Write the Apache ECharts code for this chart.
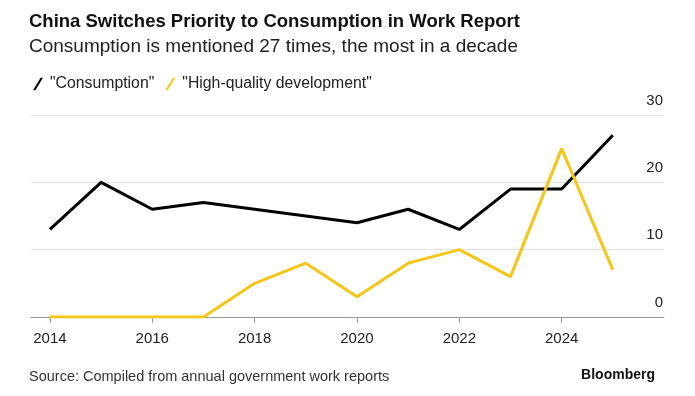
<!DOCTYPE html>
<html>
<head>
<meta charset="utf-8">
<script src="https://cdn.jsdelivr.net/npm/echarts@6/dist/echarts.min.js"></script>
<style>
  html, body { margin: 0; padding: 0; background: #fff; }
  #chart { width: 695px; height: 396px; }
</style>
</head>
<body>
<div id="chart"></div>
<script>
  // data
  const years = [2014, 2015, 2016, 2017, 2018, 2019, 2020, 2021, 2022, 2023, 2024, 2025];
  const consumption = [13, 20, 16, 17, 16, 15, 14, 16, 13, 19, 19, 27];
  const highQuality = [0, 0, 0, 0, 5, 8, 3, 8, 10, 6, 25, 7];
  const xTicks = [2014, 2016, 2018, 2020, 2022, 2024];
  const yTicks = [0, 10, 20, 30];

  const font = '"Liberation Sans", Arial, sans-serif';
  const slash = 'path://M0,13 L8,0 L10.5,0 L2.5,13 Z';

  const chart = echarts.init(document.getElementById('chart'));
  chart.setOption({
    animation: false,
    textStyle: { fontFamily: font },
    title: [
      {
        text: 'China Switches Priority to Consumption in Work Report',
        subtext: 'Consumption is mentioned 27 times, the most in a decade',
        left: 24, top: 7,
        itemGap: 6,
        textStyle: { fontSize: 18.5, fontWeight: 'bold', color: '#111', fontFamily: font },
        subtextStyle: { fontSize: 19, color: '#222', fontFamily: font }
      },
      {
        text: 'Source: Compiled from annual government work reports',
        left: 24, top: 364,
        textStyle: { fontSize: 14.5, fontWeight: 'normal', color: '#333', fontFamily: font }
      },
      {
        text: 'Bloomberg',
        right: 35, top: 363,
        textStyle: { fontSize: 14, fontWeight: 'bold', color: '#111', fontFamily: font }
      }
    ],
    legend: {
      left: 28, top: 71,
      itemWidth: 10, itemHeight: 13, itemGap: 11,
      textStyle: { fontSize: 15.8, color: '#222', padding: [0, 0, 0, 2] },
      data: [
        { name: '"Consumption"', icon: slash },
        { name: '"High-quality development"', icon: slash }
      ]
    },
    grid: { left: 31, right: 31, top: 115, bottom: 79, containLabel: false },
    xAxis: {
      type: 'value',
      min: 2013.63, max: 2026,
      axisLine: { show: true, lineStyle: { color: '#999', width: 1 } },
      axisTick: { show: true, length: 6, lineStyle: { color: '#999' }, customValues: xTicks },
      axisLabel: { fontSize: 15, color: '#222', margin: 14, customValues: xTicks, formatter: v => String(v) },
      splitLine: { show: false }
    },
    yAxis: {
      type: 'value',
      position: 'right',
      min: 0, max: 30, interval: 10,
      axisLine: { show: false },
      axisTick: { show: false },
      axisLabel: {
        inside: true, margin: 1, fontSize: 15, color: '#222',
        verticalAlign: 'bottom', padding: [0, 0, 7, 0],
        customValues: yTicks
      },
      splitLine: { lineStyle: { color: '#e2e2e2', width: 1 } }
    },
    series: [
      {
        name: '"Consumption"',
        type: 'line',
        data: years.map((y, i) => [y, consumption[i]]),
        symbol: 'none',
        color: '#000',
        lineStyle: { width: 3, color: '#000' }
      },
      {
        name: '"High-quality development"',
        type: 'line',
        data: years.map((y, i) => [y, highQuality[i]]),
        symbol: 'none',
        color: '#f5c518',
        lineStyle: { width: 3, color: '#f5c518' },
        z: 3
      }
    ]
  });
</script>
</body>
</html>
